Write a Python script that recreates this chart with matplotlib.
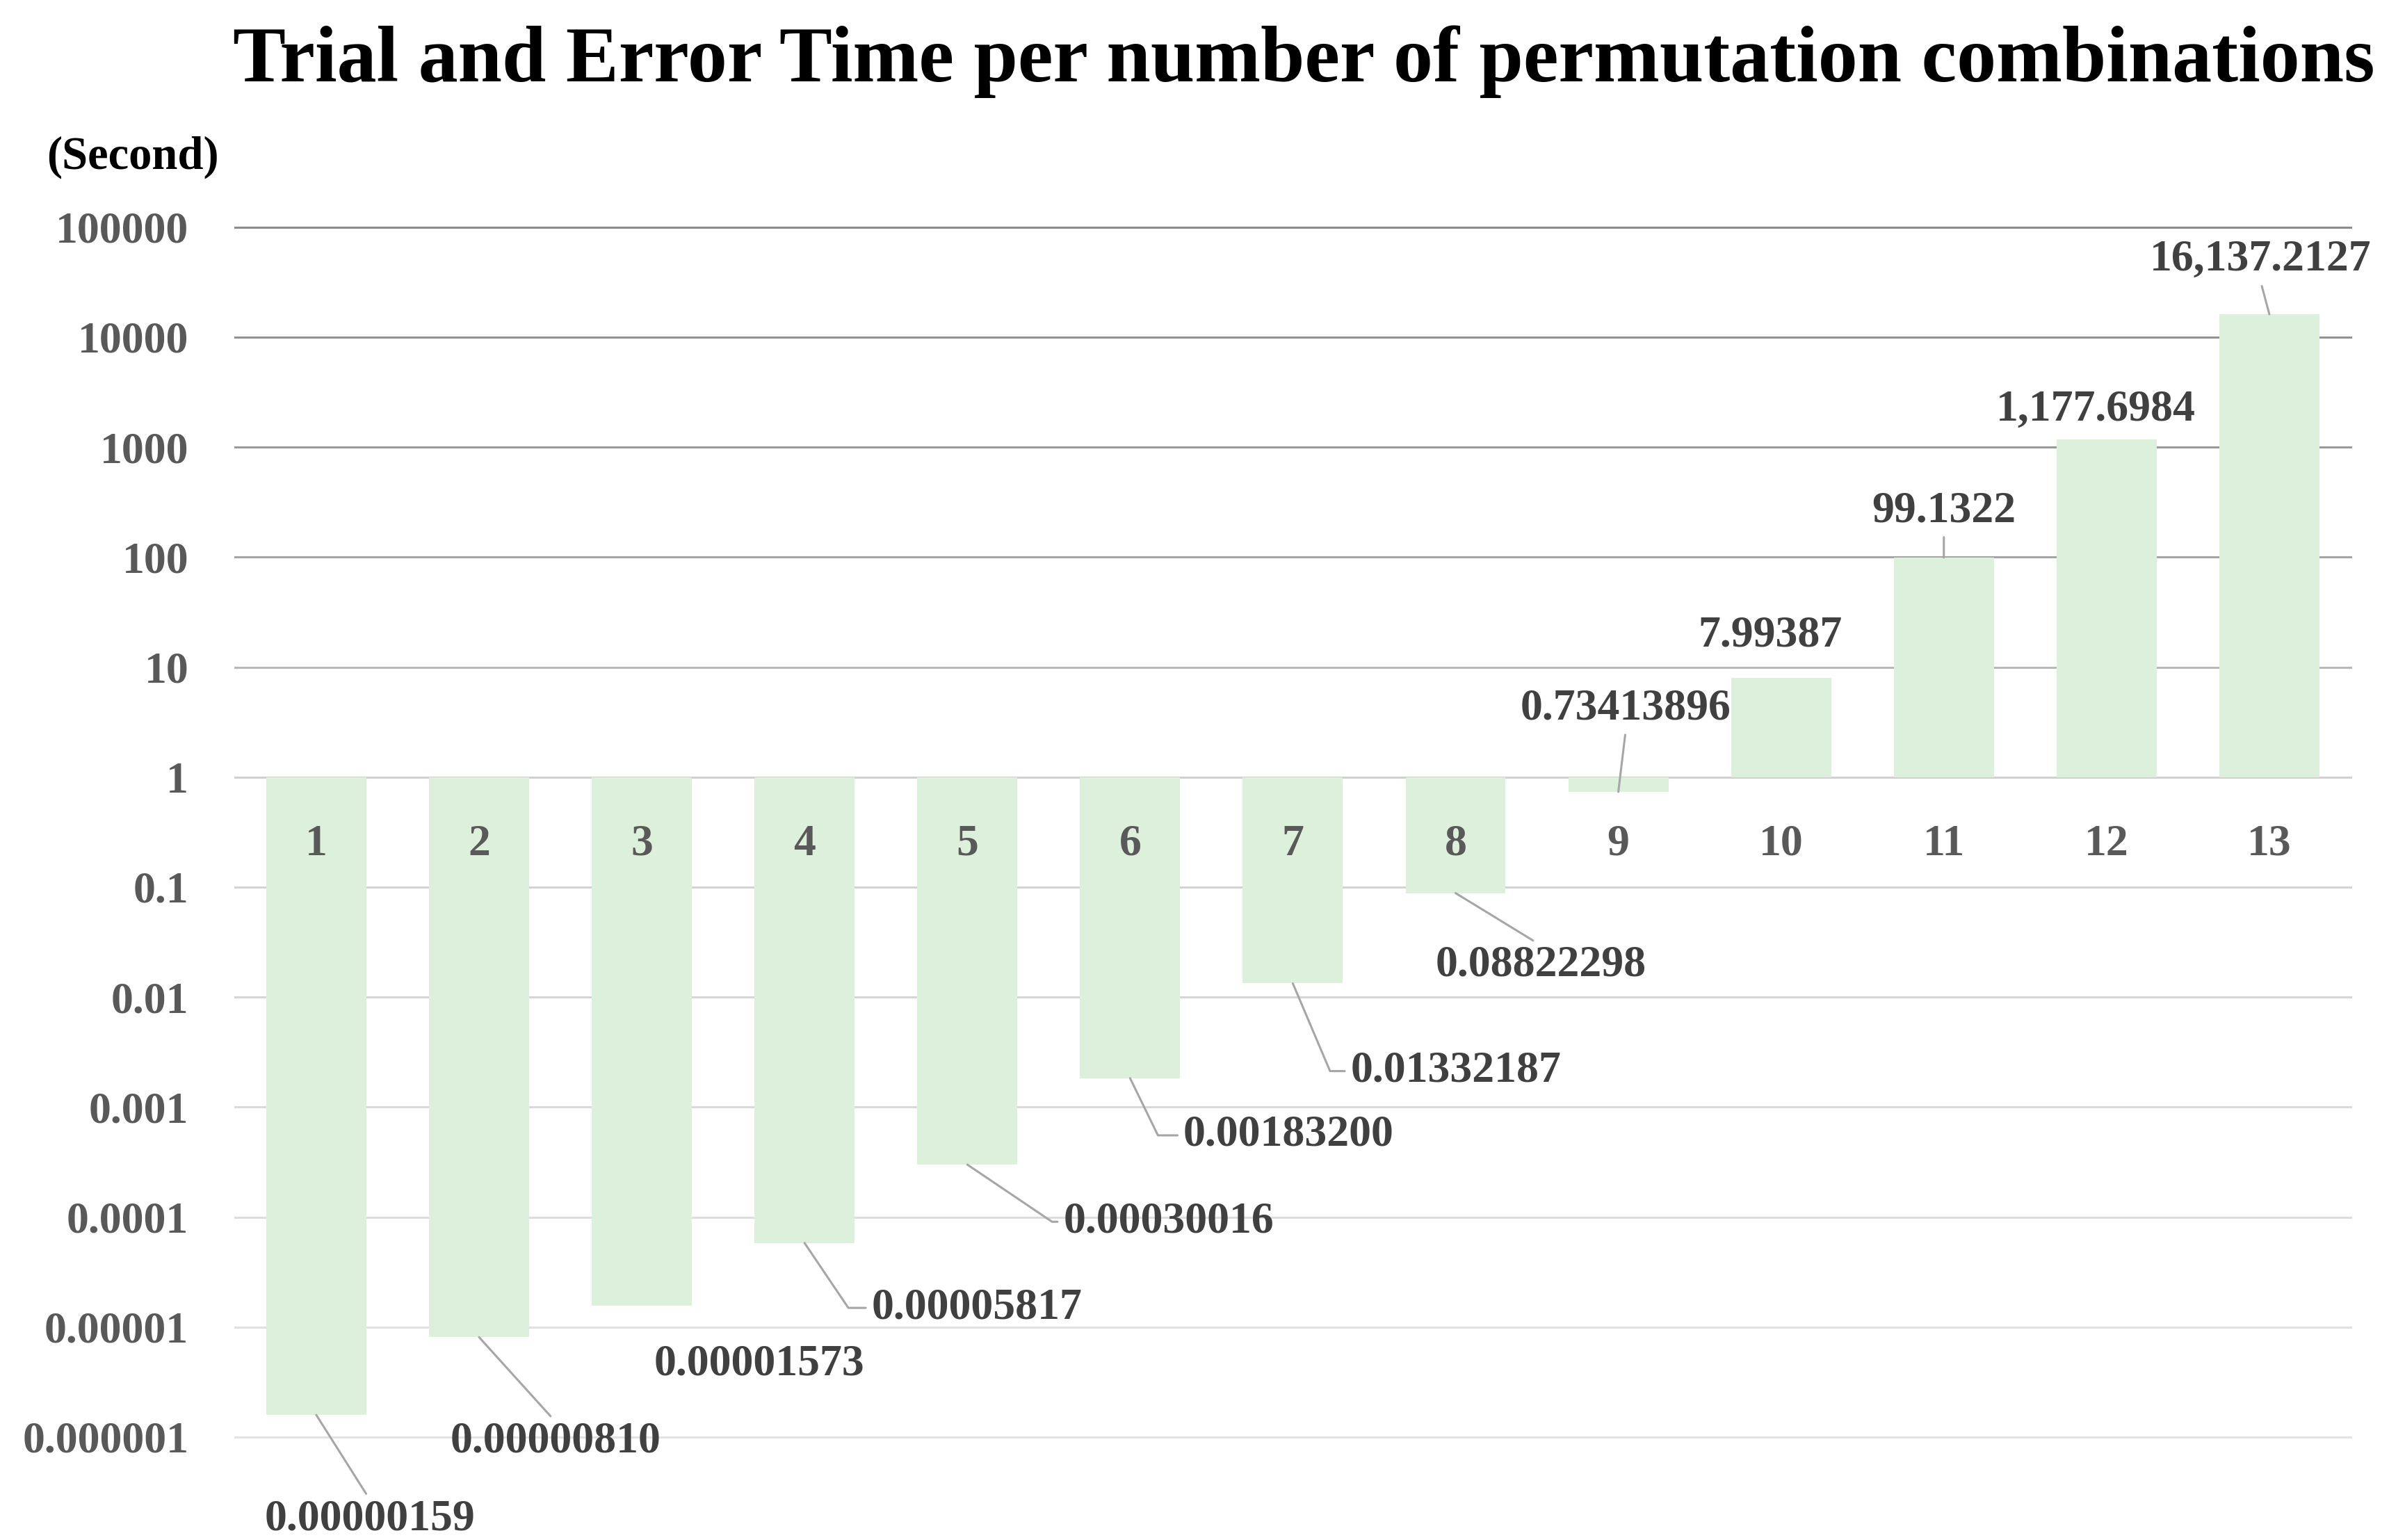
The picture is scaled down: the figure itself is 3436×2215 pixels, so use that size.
import matplotlib
matplotlib.use("Agg")
import matplotlib.pyplot as plt
import numpy as np

# ---- data ----
categories = ["1", "2", "3", "4", "5", "6", "7", "8", "9", "10", "11", "12", "13"]
times = [0.00000159, 0.00000810, 0.00001573, 0.00005817, 0.00030016, 0.00183200,
         0.01332187, 0.08822298, 0.73413896, 7.99387, 99.1322, 1177.6984, 16137.2127]
value_labels = ["0.00000159", "0.00000810", "0.00001573", "0.00005817", "0.00030016",
                "0.00183200", "0.01332187", "0.08822298", "0.73413896", "7.99387",
                "99.1322", "1,177.6984", "16,137.2127"]
ytick_values = [1e-6, 1e-5, 1e-4, 1e-3, 1e-2, 1e-1, 1, 10, 100, 1000, 10000, 100000]
ytick_labels = ["0.000001", "0.00001", "0.0001", "0.001", "0.01", "0.1", "1", "10",
                "100", "1000", "10000", "100000"]
title = "Trial and Error Time per number of permutation combinations"
unit_label = "(Second)"

# ---- style ----
label_offsets = [(27.6, -54.1), (39.5, -54.1), (60.8, -30.4), (89.2, -33.6),
                 (104.2, -29.6), (82.1, -29.6), (84.4, -45.4), (44.2, -37.5),
                 (3.9, 43.0), (-5.5, 21.7), (0, 24.0), (-5.5, 15.3), (-4.7, 28.0)]
# leader: None, ('straight', relpos) or ('elbow', angleB)
leaders = [("straight", (0.5, 1.0)), ("straight", (0.5, 1.0)), None,
           ("elbow", -56), ("elbow", -34), ("elbow", -64), ("elbow", -67),
           ("straight", (0.5, 1.0)), ("straight", (0.5, 0.0)), None,
           ("straight", (0.5, 0.0)), None, ("straight", (0.5, 0.0))]
grid_grays = [226, 224, 221, 218, 214, 211, 208, 185, 165, 154, 146, 140]

FONT = "Liberation Serif"
W, H, DPI = 3437, 2215, 200
fig = plt.figure(figsize=(W / DPI, H / DPI), dpi=DPI)
fig.patch.set_facecolor("white")
ax = fig.add_axes([0.0983, 0.06682, 0.9837 - 0.0983, 0.85251 - 0.06682])

x = np.arange(len(categories))
ax.set_yscale("log")
ax.set_ylim(1e-6, 1e5)
ax.set_xlim(-0.5, len(categories) - 0.5)

# gridlines
for v, g in zip(ytick_values, grid_grays):
    c = "#%02x%02x%02x" % (g, g, g)
    ax.axhline(v, color=c, lw=1.1, zorder=1, clip_on=False)

heights = [t - 1 for t in times]
ax.bar(x, heights, bottom=1, width=0.615, color="#DDF0DB", zorder=2)

ax.set_yticks(ytick_values)
ax.set_yticklabels(ytick_labels)
ax.minorticks_off()
ax.tick_params(axis="y", length=0, pad=24, labelsize=23, labelcolor="#595959")
ax.set_xticks([])
for lab in ax.get_yticklabels():
    lab.set_fontfamily(FONT)
    lab.set_fontweight("bold")
for s in ax.spines.values():
    s.set_visible(False)

# category labels at the crossing line y=1
for xi, cat in zip(x, categories):
    ax.annotate(cat, xy=(xi, 1), xytext=(0, -40.3), textcoords="offset points",
                ha="center", va="baseline", fontsize=23, fontweight="bold",
                fontfamily=FONT, color="#595959", zorder=4)

# value labels with leader lines
for xi, t, lab, off, ld in zip(x, times, value_labels, label_offsets, leaders):
    arrowprops = None
    if ld is not None:
        if ld[0] == "straight":
            arrowprops = dict(arrowstyle="-", color="#a6a6a6", lw=1.1,
                              shrinkA=1, shrinkB=0, relpos=ld[1])
        else:
            arrowprops = dict(arrowstyle="-", color="#a6a6a6", lw=1.1,
                              shrinkA=1, shrinkB=0, relpos=(0.0, 0.5),
                              connectionstyle="angle,angleA=0,angleB=%d,rad=0" % ld[1])
    ax.annotate(lab, xy=(xi, t), xytext=off, textcoords="offset points",
                ha="center", va="center", fontsize=23, fontweight="bold",
                fontfamily=FONT, color="#404040", arrowprops=arrowprops, zorder=5)

fig.text(0.5455, 0.9472, title, ha="center", va="baseline", fontsize=41,
         fontweight="bold", fontfamily=FONT, color="black")
fig.text(0.0195, 0.898, unit_label, ha="left", va="center", fontsize=24,
         fontweight="bold", fontfamily=FONT, color="black")

fig.savefig("out.png", dpi=DPI)
